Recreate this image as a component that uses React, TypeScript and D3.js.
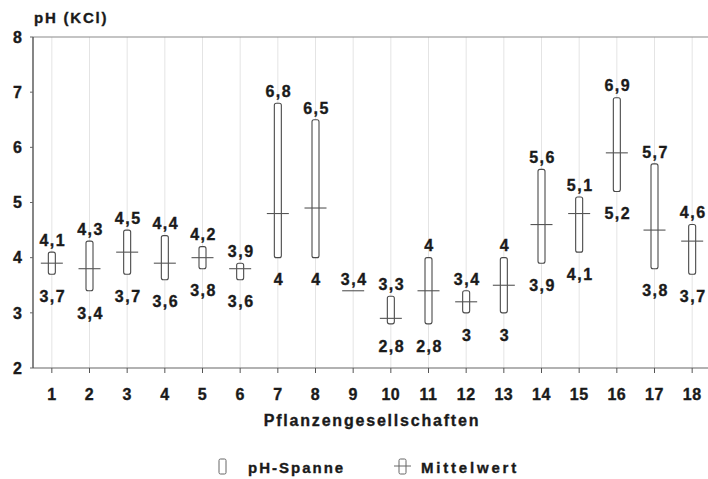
import React from "react";
import * as d3 from "d3";

const categories = ["1","2","3","4","5","6","7","8","9","10","11","12","13","14","15","16","17","18"];
const minValues = [3.7, 3.4, 3.7, 3.6, 3.8, 3.6, 4, 4, 3.4, 2.8, 2.8, 3, 3, 3.9, 4.1, 5.2, 3.8, 3.7];
const maxValues = [4.1, 4.3, 4.5, 4.4, 4.2, 3.9, 6.8, 6.5, 3.4, 3.3, 4, 3.4, 4, 5.6, 5.1, 6.9, 5.7, 4.6];
const meanValues = [3.9, 3.8, 4.1, 3.9, 4.0, 3.8, 4.8, 4.9, 3.4, 2.9, 3.4, 3.2, 3.5, 4.6, 4.8, 5.9, 4.5, 4.3];
const yTicks = [2, 3, 4, 5, 6, 7, 8];
const yTitle = "pH (KCl)";
const xTitle = "Pflanzengesellschaften";
const legendRange = "pH-Spanne";
const legendMean = "Mittelwert";

const W = 708, H = 479;
const left = 33, top = 37, bottom = 368, right = 711;
const FONT = "'Liberation Sans', Arial, sans-serif";
const INK = "#1a1a1a";
const fmt = (v: number) => String(v).replace(".", ",");

export default function App() {
  const x = d3.scaleBand<string>().domain(categories).range([left, right]).padding(0);
  const y = d3.scaleLinear().domain([2, 8]).range([bottom, top]);
  const cx = (c: string) => (x(c) as number) + x.bandwidth() / 2;
  const boxW = 7, meanW = 22;
  const txt = { fontFamily: FONT, fontWeight: 700, fill: INK, stroke: INK, strokeWidth: 0.35 } as const;

  return (
    <svg width={W} height={H} style={{ position: "absolute", left: 0, top: 0, background: "#fff" }}>
      {categories.map((c) => (
        <line key={"g" + c} x1={cx(c)} x2={cx(c)} y1={top} y2={bottom} stroke="#e4e4e4" strokeWidth={1} />
      ))}
      <line x1={left} x2={W} y1={top} y2={top} stroke="#8a8a8a" strokeWidth={1.2} />
      <line x1={left} x2={W} y1={bottom} y2={bottom} stroke="#666" strokeWidth={1.2} />
      <line x1={left} x2={left} y1={top} y2={bottom} stroke="#444" strokeWidth={1.3} />
      {yTicks.map((t) => (
        <g key={"y" + t}>
          <line x1={left - 3} x2={left} y1={y(t)} y2={y(t)} stroke="#666" />
          <text x={22} y={y(t)} dy="0.36em" textAnchor="end" fontSize={16} {...txt}>{t}</text>
        </g>
      ))}
      {categories.map((c) => (
        <g key={"x" + c}>
          <line x1={cx(c)} x2={cx(c)} y1={bottom} y2={bottom + 5} stroke="#555" />
          <text x={cx(c)} y={400} textAnchor="middle" fontSize={16} letterSpacing={0.5} {...txt}>{c}</text>
        </g>
      ))}
      <text x={34} y={23} fontSize={15} letterSpacing={1.8} {...txt}>{yTitle}</text>
      <text x={372} y={426} textAnchor="middle" fontSize={16} letterSpacing={1.8} {...txt}>{xTitle}</text>
      {categories.map((c, i) => {
        const lo = minValues[i], hi = maxValues[i], m = meanValues[i];
        const X = cx(c);
        return (
          <g key={"b" + c}>
            {hi > lo && (
              <rect x={X - boxW / 2} y={y(hi)} width={boxW} height={y(lo) - y(hi)} rx={2}
                fill="#fff" stroke="#4a4a4a" strokeWidth={1.1} />
            )}
            <line x1={X - meanW / 2} x2={X + meanW / 2} y1={y(m)} y2={y(m)} stroke="#555" strokeWidth={1.1} />
            <text x={X + 1} y={y(hi) - 12} dy="0.36em" textAnchor="middle" fontSize={16} letterSpacing={1.5} {...txt}>{fmt(hi)}</text>
            {hi > lo && (
              <text x={X + 1} y={y(lo) + 22} dy="0.36em" textAnchor="middle" fontSize={16} letterSpacing={1.5} {...txt}>{fmt(lo)}</text>
            )}
          </g>
        );
      })}
      <rect x={219} y={459} width={7} height={15} rx={1.5} fill="#fff" stroke="#666" strokeWidth={1} />
      <text x={248} y={473} fontSize={15} letterSpacing={2} {...txt}>{legendRange}</text>
      <rect x={399} y={459} width={7} height={15} rx={1.5} fill="#fff" stroke="#666" strokeWidth={1} />
      <line x1={394} x2={411} y1={466} y2={466} stroke="#666" strokeWidth={1} />
      <text x={421} y={473} fontSize={15} letterSpacing={2.8} {...txt}>{legendMean}</text>
    </svg>
  );
}
